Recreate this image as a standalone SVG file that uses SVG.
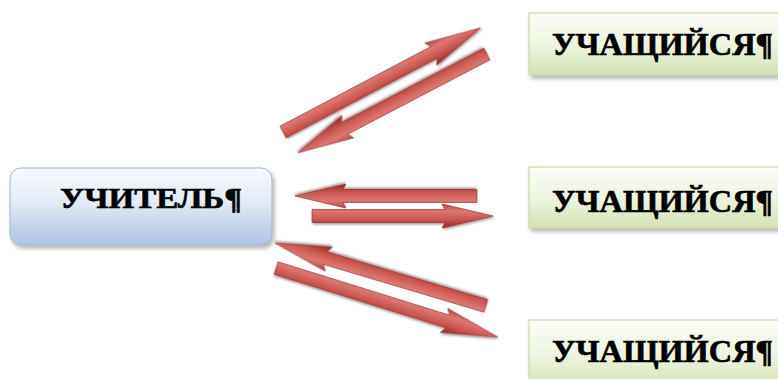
<svg xmlns="http://www.w3.org/2000/svg" width="778" height="379" viewBox="0 0 778 379">
  <defs>
    <linearGradient id="gTeacher" x1="0" y1="0" x2="0" y2="1">
      <stop offset="0" stop-color="#f7fafd"/>
      <stop offset="0.45" stop-color="#e1eaf5"/>
      <stop offset="1" stop-color="#adc4e2"/>
    </linearGradient>
    <linearGradient id="gStudent" x1="0" y1="0" x2="0" y2="1">
      <stop offset="0" stop-color="#fbfdf7"/>
      <stop offset="0.5" stop-color="#eef4e0"/>
      <stop offset="1" stop-color="#d3e2b3"/>
    </linearGradient>
    <linearGradient id="gArrow" x1="0" y1="0" x2="0" y2="1">
      <stop offset="0" stop-color="#b64744"/>
      <stop offset="0.3" stop-color="#dc7773"/>
      <stop offset="0.65" stop-color="#c9564f"/>
      <stop offset="1" stop-color="#8e2c2a"/>
    </linearGradient>
    <filter id="shadow" x="-10%" y="-20%" width="125%" height="150%">
      <feDropShadow dx="2" dy="3" stdDeviation="2" flood-color="#000" flood-opacity="0.3"/>
    </filter>
    <filter id="ashadow" x="-10%" y="-50%" width="120%" height="200%">
      <feDropShadow dx="1" dy="1.5" stdDeviation="1" flood-color="#3a0d0c" flood-opacity="0.45"/>
    </filter>
  </defs>
  <style>
    .teacher { fill: url(#gTeacher); stroke: #9fb6d3; stroke-width: 1; filter: url(#shadow); }
    .student { fill: url(#gStudent); stroke: #c1d49a; stroke-width: 1; filter: url(#shadow); }
    .label { font-family: "Liberation Serif", "Times New Roman", serif; font-weight: bold; fill: #000; stroke: #000; stroke-width: 0.6; }
    .arrow { fill: url(#gArrow); stroke: #8a2a28; stroke-width: 0.6; filter: url(#ashadow); }
  </style>

  <!-- connectors: double arrows between teacher and each student -->
  <g id="connectors">
    <!-- top pair -->
    <polygon class="arrow" transform="translate(283,132) rotate(-27.8)" points="0,-6.5 171,-6.5 167,-12.5 223,0 167,12.5 171,6.5 0,6.5"/>
    <polygon class="arrow" transform="translate(487,54) rotate(152.4)" points="0,-6.5 161,-6.5 157,-12.5 213,0 157,12.5 161,6.5 0,6.5"/>
    <!-- middle pair -->
    <polygon class="arrow" transform="translate(477,196) rotate(180)" points="0,-6.5 134,-6.5 131,-12 182,0 131,12 134,6.5 0,6.5"/>
    <polygon class="arrow" transform="translate(312,216)" points="0,-6.5 133,-6.5 130,-12 181,0 130,12 133,6.5 0,6.5"/>
    <!-- bottom pair -->
    <polygon class="arrow" transform="translate(486,306) rotate(-163.4)" points="0,-6.5 168,-6.5 164,-12.5 220,0 164,12.5 168,6.5 0,6.5"/>
    <polygon class="arrow" transform="translate(276,268) rotate(17.3)" points="0,-6.5 180,-6.5 176,-12.5 232,0 176,12.5 180,6.5 0,6.5"/>
  </g>

  <g id="teacher">
    <rect class="teacher" x="10" y="168" width="262" height="77" rx="11"/>
    <text class="label" x="60" y="208" font-size="29" textLength="182" lengthAdjust="spacingAndGlyphs">УЧИТЕЛЬ¶</text>
  </g>

  <g id="student-1">
    <rect class="student" x="529" y="13" width="262" height="62"/>
    <text class="label" x="552" y="55" font-size="31" textLength="221" lengthAdjust="spacingAndGlyphs">УЧАЩИЙСЯ¶</text>
  </g>

  <g id="student-2">
    <rect class="student" x="529" y="167" width="262" height="61"/>
    <text class="label" x="552" y="212" font-size="31" textLength="221" lengthAdjust="spacingAndGlyphs">УЧАЩИЙСЯ¶</text>
  </g>

  <g id="student-3">
    <rect class="student" x="529" y="320" width="262" height="70"/>
    <text class="label" x="552" y="362" font-size="31" textLength="221" lengthAdjust="spacingAndGlyphs">УЧАЩИЙСЯ¶</text>
  </g>
</svg>
